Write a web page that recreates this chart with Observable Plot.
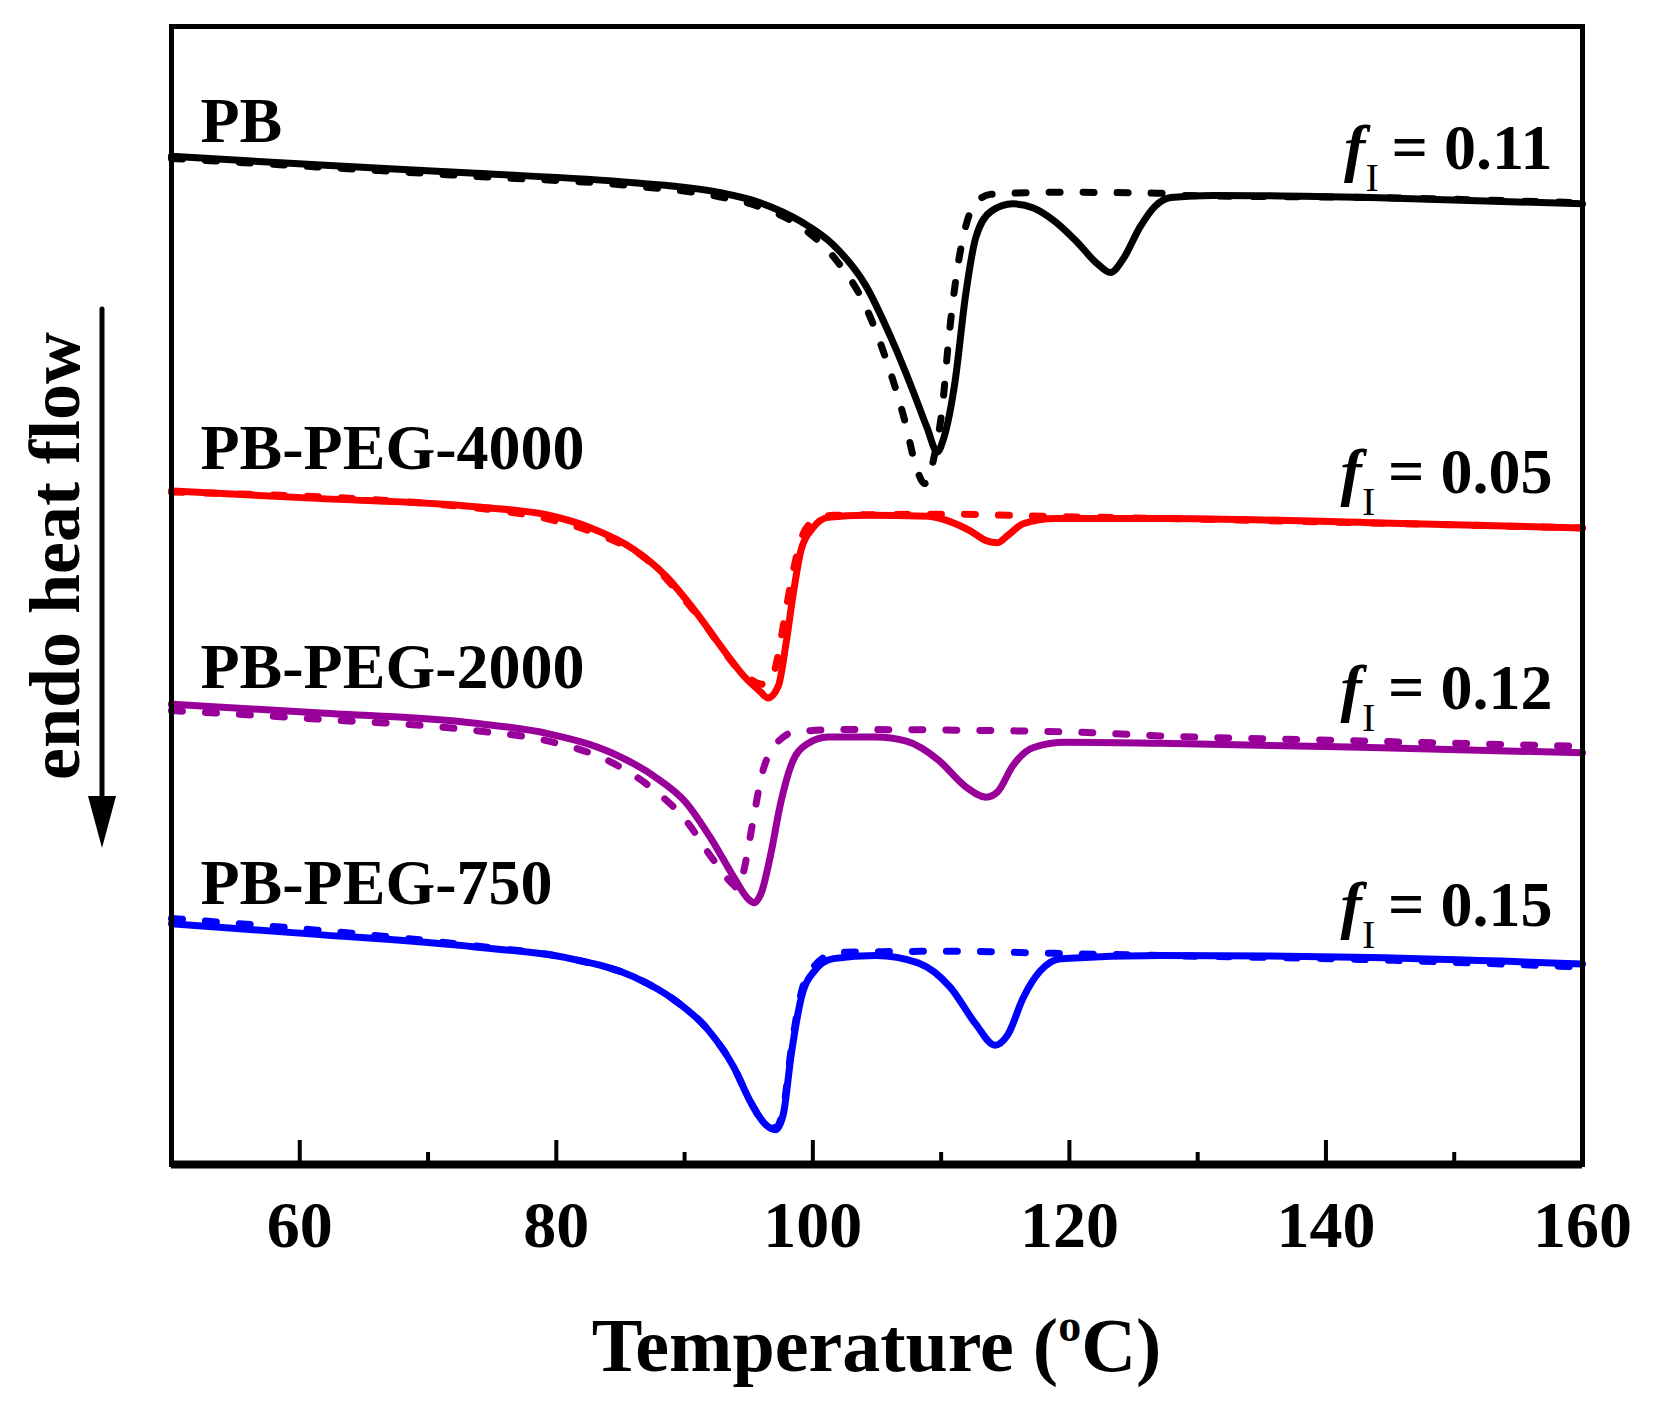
<!DOCTYPE html>
<html><head><meta charset="utf-8">
<script src="https://cdn.jsdelivr.net/npm/d3@7"></script>
<script src="https://cdn.jsdelivr.net/npm/@observablehq/plot@0.6"></script>
<style>body{margin:0;background:#fff} svg{display:block}</style>
</head><body><div id="chart"></div>
<script>
// ---- data (Temperature °C, heat flow a.u.) ----
const seriesNames = ["PB", "PB-PEG-4000", "PB-PEG-2000", "PB-PEG-750"];
const fIValues = ["0.11", "0.05", "0.12", "0.15"];
const majorTicks = [60, 80, 100, 120, 140, 160];
const minorTicks = [70, 90, 110, 130, 150];

const pbSolid = [[50,95.5],[61.3,94.7],[73.7,93.9],[86.0,93.0],[92.6,92.1],[95.9,91.1],[99.1,89.3],[101.6,87.1],[104.1,83.3],[106.1,78.3],[107.8,73.3],[108.9,69.8],[109.7,67.5],[110.2,68.8],[111.1,74.3],[111.9,82.3],[112.7,87.8],[113.9,90.3],[115.6,91.0],[117.2,90.6],[118.9,89.3],[120.5,87.5],[122.2,85.3],[123.2,84.5],[124.2,85.8],[125.5,88.8],[126.7,90.8],[127.9,91.6],[131.2,91.8],[143.5,91.6],[160,91.0]];
const pbDashed = [[50,95.3],[61.3,94.5],[73.7,93.6],[86.0,92.7],[92.6,91.7],[95.9,90.7],[99.1,88.8],[101.6,86.0],[104.1,81.3],[105.7,76.3],[107.2,70.3],[108.0,66.3],[108.7,64.5],[109.5,67.3],[110.1,71.8],[110.6,78.3],[111.2,84.3],[111.9,88.8],[112.7,91.1],[113.9,91.9],[118.9,92.1],[127.1,92.0],[128.8,91.8],[143.5,91.6],[160,91.1]];
const p4000Solid = [[50,63.8],[61.3,63.1],[73.7,62.3],[79.4,61.5],[82.7,60.3],[86.0,58.3],[88.5,55.8],[90.9,52.3],[93.0,48.8],[94.6,46.3],[95.9,44.8],[96.5,44.2],[97.3,45.3],[97.9,49.3],[98.5,54.3],[99.1,58.3],[100.0,60.3],[101.2,61.3],[104.1,61.5],[109.0,61.4],[110.7,60.9],[112.3,60.0],[113.5,59.1],[114.4,58.9],[115.2,59.6],[116.4,60.7],[118.9,61.2],[127.1,61.2],[143.5,60.8],[160,60.3]];
const p4000Dashed = [[50,63.7],[73.7,62.2],[86.0,58.2],[90.9,52.2],[94.6,46.5],[96.0,45.5],[96.7,45.8],[97.3,48.3],[97.8,51.8],[98.4,55.8],[99.1,59.3],[100.0,60.9],[101.6,61.5],[110.7,61.6],[118.1,61.4],[127.1,61.2],[160,60.3]];
const p2000Solid = [[50,43.6],[61.3,42.8],[73.7,41.8],[79.4,40.8],[84.3,39.0],[87.6,36.8],[90.1,34.3],[92.1,30.8],[93.8,27.3],[95.0,25.1],[95.4,24.8],[96.0,25.8],[96.7,29.3],[97.5,34.3],[98.3,37.8],[99.5,39.8],[101.2,40.5],[104.9,40.5],[107.3,40.1],[109.8,38.3],[111.9,35.8],[113.5,34.8],[114.4,35.3],[115.6,37.8],[117.2,39.5],[119.7,40.0],[127.1,39.9],[143.5,39.5],[160,39.0]];
const p2000Dashed = [[50,43.0],[61.3,42.2],[73.7,41.1],[79.4,40.1],[84.3,38.1],[87.6,35.5],[90.1,32.6],[92.1,29.1],[93.8,26.5],[94.2,26.1],[94.7,28.3],[95.3,32.3],[96.0,36.8],[97.1,39.8],[98.7,41.0],[102.4,41.2],[119.4,41.0],[127.1,40.6],[143.5,40.1],[160,39.6]];
const p750Solid = [[50,22.8],[61.3,21.8],[73.7,20.6],[81.1,19.5],[86.0,17.8],[89.3,15.5],[91.8,12.8],[93.8,9.3],[95.2,5.8],[96.3,3.8],[97.1,3.3],[97.7,4.8],[98.3,10.3],[99.1,15.8],[100.1,18.3],[101.6,19.5],[104.9,19.8],[108.2,19.1],[110.7,16.8],[112.7,13.3],[114.2,11.3],[115.2,12.3],[116.4,15.8],[117.7,18.3],[119.3,19.5],[127.1,19.8],[143.5,19.6],[160,19.0]];
const p750Dashed = [[50,23.3],[61.3,22.2],[73.7,20.7],[81.1,19.5],[86.0,17.8],[89.3,15.5],[91.8,12.8],[93.8,9.3],[95.2,5.8],[96.3,3.8],[97.1,3.5],[97.7,5.3],[98.3,10.8],[99.1,16.3],[100.1,18.8],[102.0,20.1],[110.7,20.2],[118.9,20.0],[127.1,19.8],[143.5,19.4],[160,18.7]];

// annotation anchors (data units)
const nameLabelT = 52.3;
const nameLabelY = [96.8, 65.8, 45.1, 24.6];
const fLabelT = 157.7;
const fLabelY = [94.3, 63.6, 43.1, 22.5];

// ---- styling ----
const colors = ["#000000", "#ff0000", "#990099", "#0000ff"];
const solids = [pbSolid, p4000Solid, p2000Solid, p750Solid];
const dasheds = [pbDashed, p4000Dashed, p2000Dashed, p750Dashed];
const FONT = "'Liberation Serif', 'Times New Roman', serif";

const lineMarks = [];
seriesNames.forEach((name, i) => {
  lineMarks.push(Plot.line(dasheds[i], {x: d => d[0], y: d => d[1], curve: "monotone-x",
    stroke: colors[i], strokeWidth: 7, strokeDasharray: "11,23", strokeLinecap: "round"}));
  lineMarks.push(Plot.line(solids[i], {x: d => d[0], y: d => d[1], curve: "monotone-x",
    stroke: colors[i], strokeWidth: 7, strokeLinejoin: "round", strokeLinecap: "round"}));
});

const W = 1654, H = 1404, mL = 171, mR = 72, mT = 26, mB = 240;
const frameH = H - mT - mB;

const plot = Plot.plot({
  width: W, height: H,
  marginLeft: mL, marginRight: mR, marginTop: mT, marginBottom: mB,
  style: {fontFamily: FONT, background: "white", color: "black"},
  x: {domain: [50, 160], label: null},
  y: {domain: [0, 107.8], axis: null},
  marks: [
    ...lineMarks,
    Plot.frame({stroke: "black", strokeWidth: 5}),
    Plot.ruleY([0], {stroke: "black", strokeWidth: 8}),
    Plot.tickX(majorTicks, {x: d => d, stroke: "black", strokeWidth: 4, insetTop: frameH - 24}),
    Plot.tickX(minorTicks, {x: d => d, stroke: "black", strokeWidth: 4, insetTop: frameH - 12}),
    Plot.axisX(majorTicks, {tickSize: 0, tickPadding: 36, fontSize: 66, fontWeight: "bold", label: null, fill: "black"})
  ]
});
document.getElementById("chart").appendChild(plot);

// ---- annotations, positioned via Plot's scales ----
const sx = plot.scale("x"), sy = plot.scale("y");
const svg = d3.select(plot);
const g = svg.append("g").attr("font-family", FONT).attr("font-weight", "bold").attr("fill", "black");

seriesNames.forEach((name, i) => {
  g.append("text").attr("x", sx.apply(nameLabelT)).attr("y", sy.apply(nameLabelY[i]))
    .attr("font-size", 64).attr("text-anchor", "start").text(name);
  const t = g.append("text").attr("x", sx.apply(fLabelT)).attr("y", sy.apply(fLabelY[i]))
    .attr("font-size", 64).attr("text-anchor", "end");
  t.append("tspan").attr("font-style", "italic").text("f");
  t.append("tspan").attr("font-size", 40).attr("font-weight", "normal").attr("dy", 22).text("I");
  t.append("tspan").attr("dy", -22).text("\u2009= " + fIValues[i]);
});

// x-axis title
const xt = g.append("text").attr("x", (mL + W - mR) / 2).attr("y", 1371)
  .attr("font-size", 76).attr("text-anchor", "middle");
xt.append("tspan").text("Temperature (");
xt.append("tspan").attr("font-size", 46).attr("dy", -30).text("o");
xt.append("tspan").attr("dy", 30).text("C)");

// y-axis title and arrow
g.append("text").attr("transform", "translate(79,556) rotate(-90)")
  .attr("font-size", 72).attr("text-anchor", "middle").text("endo heat flow");
g.append("line").attr("x1", 102).attr("x2", 102).attr("y1", 309).attr("y2", 805)
  .attr("stroke", "black").attr("stroke-width", 5).attr("stroke-linecap", "round");
g.append("path").attr("d", "M88,796 L116,796 L102,848 Z").attr("fill", "black");
</script></body></html>
